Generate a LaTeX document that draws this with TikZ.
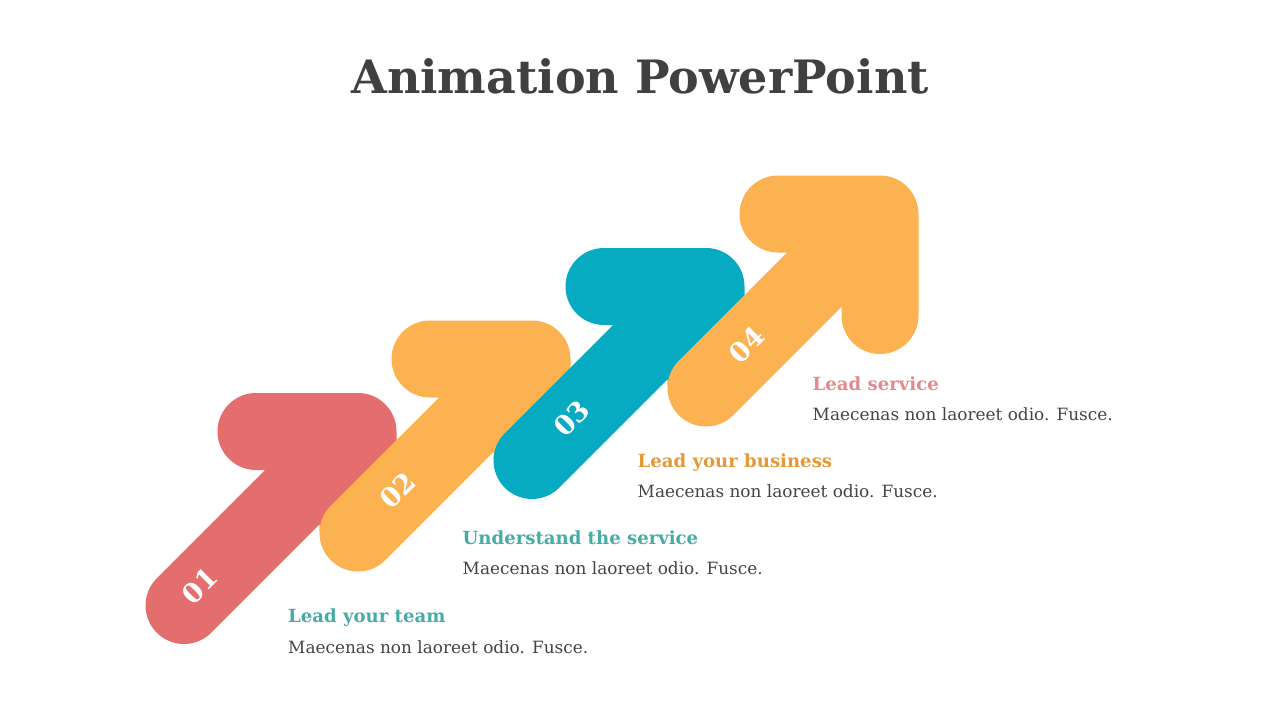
\documentclass[tikz,border=0pt]{standalone}
\usepackage{fontspec}
\usetikzlibrary{calc}
\setmainfont{DejaVu Serif}
\definecolor{redc}{RGB}{228,110,110}
\definecolor{orangec}{RGB}{253,178,82}
\definecolor{tealc}{RGB}{6,171,193}
\definecolor{titlec}{RGB}{64,64,64}
\definecolor{bodyc}{RGB}{68,68,68}
\definecolor{headteal}{RGB}{72,172,166}
\definecolor{headorange}{RGB}{229,152,56}
\definecolor{headpink}{RGB}{226,138,142}
\tikzset{
  arrowstroke/.style={line width=77pt, line cap=round, line join=round},
  numlabel/.style={text=white, font=\fontsize{27}{27}\selectfont\bfseries, rotate=45, inner sep=0pt},
  headtxt/.style={anchor=base west, inner sep=0pt, font=\fontsize{18.1}{20}\selectfont\bfseries},
  bodytxt/.style={anchor=base west, inner sep=0pt, text=bodyc, font=\fontsize{16.9}{19}\selectfont},
}
\begin{document}
\begin{tikzpicture}[x=1pt,y=-1pt]
\useasboundingbox (0,0) rectangle (1280,720);
% title
\node[anchor=base, inner sep=0pt, text=titlec, font=\fontsize{46}{50}\selectfont\bfseries] (title) at (640,93) {Animation PowerPoint};
% arrow coordinates: corner k, base b = k+(-174,174), left end l = k+(-102,0), down end d
\foreach \i/\kx/\ky/\dl in {1/358/431.5/95, 2/532/359/95, 3/706/286.5/95, 4/880/214/101.5}{
  \coordinate (k\i) at (\kx,\ky);
  \coordinate (b\i) at ($(k\i)+(-174,174)$);
  \coordinate (l\i) at ($(k\i)+(-102,0)$);
  \coordinate (d\i) at ($(k\i)+(0,\dl)$);
}
% arrows
\draw[arrowstroke, draw=redc]    (l1) -- (k1) -- (d1) (b1) -- (k1);
\draw[arrowstroke, draw=orangec] (l2) -- (k2) -- (d2) (b2) -- (k2);
\draw[arrowstroke, draw=tealc]   (l3) -- (k3) -- (d3) (b3) -- (k3);
\draw[arrowstroke, draw=orangec] (l4) -- (k4) -- (d4) (b4) -- (k4);
% numbers
\node[numlabel] (n1) at (199.5,586) {01};
\node[numlabel] (n2) at (398,490.5) {02};
\node[numlabel] (n3) at (571.5,418.5) {03};
\node[numlabel] (n4) at (746.5,345) {04};
% texts
\node[headtxt, text=headteal] (h1) at (288,622) {Lead your team};
\node[bodytxt] (t1) at (288,653) {Maecenas non laoreet odio. Fusce.};
\node[headtxt, text=headteal] (h2) at (462.5,544) {Understand the service};
\node[bodytxt] (t2) at (462.5,574.5) {Maecenas non laoreet odio. Fusce.};
\node[headtxt, text=headorange] (h3) at (637.5,467) {Lead your business};
\node[bodytxt] (t3) at (637.5,497.5) {Maecenas non laoreet odio. Fusce.};
\node[headtxt, text=headpink] (h4) at (812.5,390) {Lead service};
\node[bodytxt] (t4) at (812.5,420) {Maecenas non laoreet odio. Fusce.};
\end{tikzpicture}
\end{document}
